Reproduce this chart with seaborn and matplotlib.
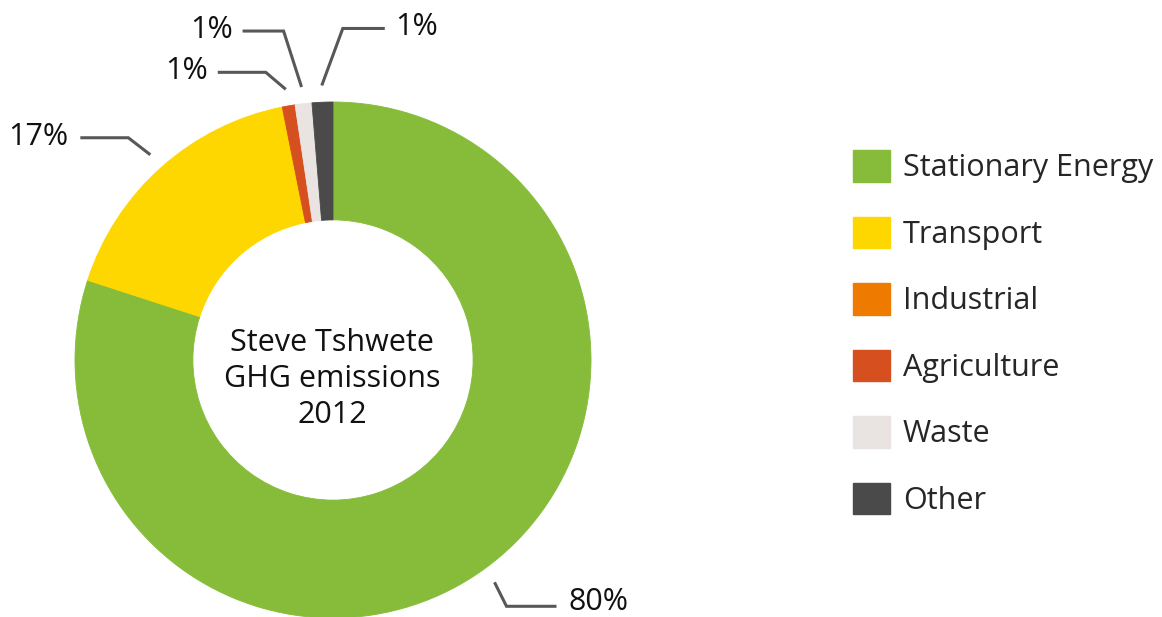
import numpy as np
import matplotlib
matplotlib.use('Agg')
import matplotlib.pyplot as plt
from matplotlib.patches import Patch
import seaborn as sns

# data
sectors = ['Stationary Energy', 'Transport', 'Industrial', 'Agriculture', 'Waste', 'Other']
shares = [80.0, 16.85, 0.0, 0.8, 1.05, 1.3]
pct_labels = ['80%', '17%', '', '1%', '1%', '1%']
colours = ['#86bc3a', '#fed700', '#ee7a00', '#d64f1f', '#e9e4e2', '#4a4a4a']
centre_title = 'Steve Tshwete\nGHG emissions\n2012'

sns.set_theme(style='white')
plt.rcParams['font.family'] = ['Open Sans', 'DejaVu Sans']

W, H = 1162, 617
fig = plt.figure(figsize=(W / 100, H / 100), dpi=100)
ax = fig.add_axes([0, 0, 1, 1])

cx, cy, R = 333, H - 360, 258
pal = sns.color_palette(colours)
wedges, _ = ax.pie(shares, colors=pal, startangle=90, counterclock=False,
                   center=(cx, cy), radius=R, frame=True,
                   wedgeprops=dict(width=R * 0.457, linewidth=0))
for w, v in zip(wedges, shares):
    if v > 0:
        w.set_edgecolor(w.get_facecolor())
        w.set_linewidth(0.6)
ax.set_xlim(0, W)
ax.set_ylim(0, H)
ax.set_aspect('equal')
ax.axis('off')

ax.text(cx - 1, H - 379, centre_title, ha='center', va='center', fontsize=22,
        color='#111111', linespacing=1.26)

# leader lines: (elbow dx, elbow dy, horizontal run, text gap, text lift)
leaders = {0: (12, -24, 50, 12, 4), 1: (-22, 17, -48, -12, 1), 3: (-20, 17, -48, -10, 1),
           4: (-18, 56, -41, -10, 1), 5: (21, 57, 42, 10, 1)}
for i, (ex, ey, run, gap, lift) in leaders.items():
    w = wedges[i]
    mid = np.deg2rad((w.theta1 + w.theta2) / 2)
    x0 = cx + R * 1.065 * np.cos(mid)
    y0 = cy + R * 1.065 * np.sin(mid)
    x1, y1 = x0 + ex, y0 + ey
    x2 = x1 + run
    ax.plot([x0, x1, x2], [y0, y1, y1], color='#58585a', lw=2.2,
            solid_capstyle='butt', solid_joinstyle='miter')
    ax.text(x2 + gap, y1 + lift, pct_labels[i], ha='left' if run > 0 else 'right',
            va='center', fontsize=22, color='#111111')

handles = [Patch(facecolor=c, edgecolor=c) for c in pal]
ax.legend(handles, sectors, loc='upper left', bbox_to_anchor=(853 / W, 1 - 150 / H),
          bbox_transform=fig.transFigure, frameon=False, fontsize=22,
          handlelength=1.21, handleheight=1.21, handletextpad=0.42,
          labelspacing=1.095, borderpad=0, borderaxespad=0)

fig.savefig('out.png', dpi=100, facecolor='white')
